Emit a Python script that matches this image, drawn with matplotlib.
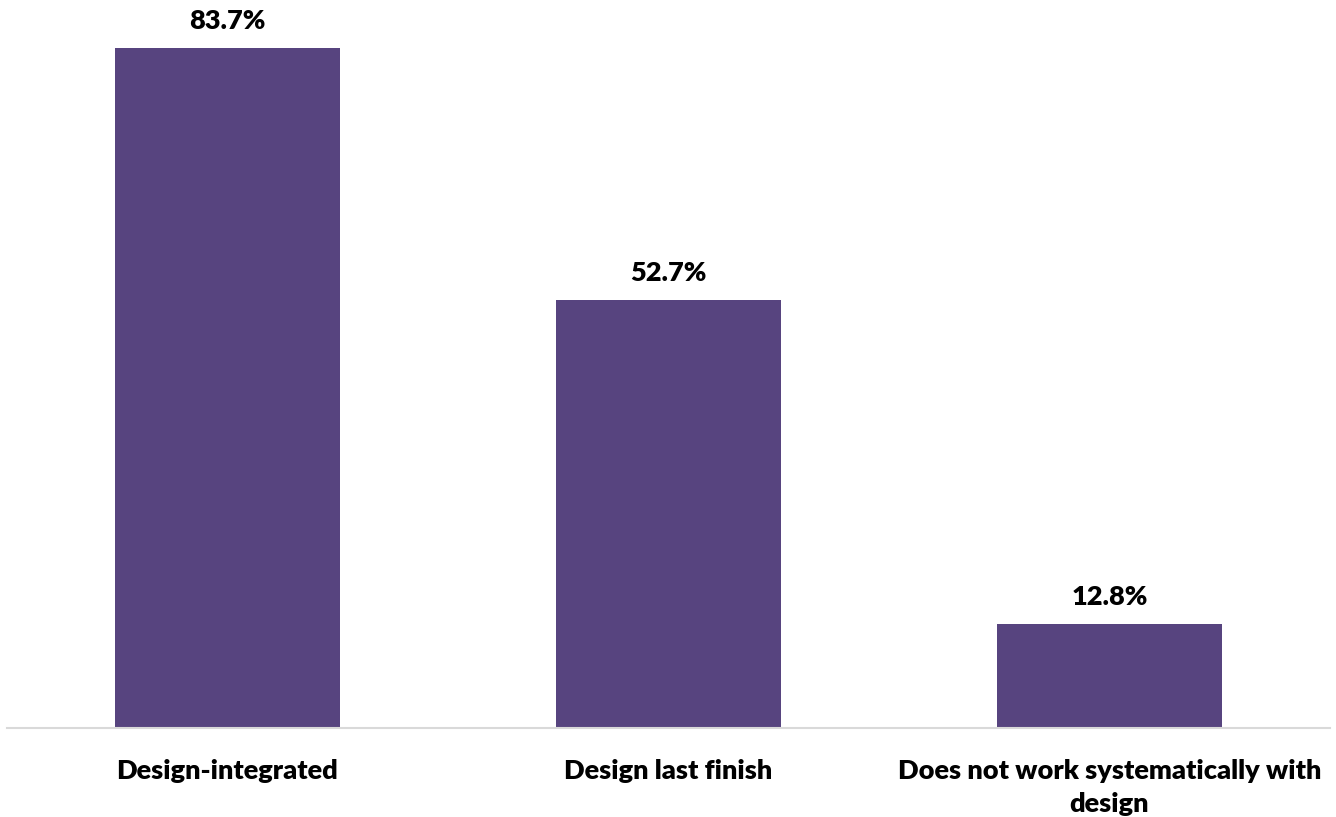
import matplotlib.pyplot as plt

# data
categories = ["Design-integrated", "Design last finish",
              "Does not work systematically with\ndesign"]
values = [83.7, 52.7, 12.8]

barColor = "#57447f"

plt.rcParams['font.family'] = ['Lato', 'DejaVu Sans']

fig = plt.figure(figsize=(13.36, 8.17), dpi=100)
ax = fig.add_axes([7 / 1336, 89 / 817, 1323 / 1336, 728 / 817])

x = list(range(len(categories)))
bars = ax.bar(x, values, width=0.51, color=barColor, zorder=2)

ax.set_xlim(-0.5, 2.5)
ax.set_ylim(0, 89.6)

# value labels above bars
for rect, v in zip(bars, values):
    ax.annotate(f"{v:.1f}%", (rect.get_x() + rect.get_width() / 2, v),
                xytext=(0, 11), textcoords="offset points",
                ha="center", va="bottom", fontsize=19.5, fontweight="heavy")

ax.set_xticks(x)
ax.set_xticklabels(categories, fontsize=19.5, fontweight="heavy", linespacing=1.45)
ax.tick_params(axis="x", length=0, pad=22)
ax.set_yticks([])

for side in ["top", "right", "left"]:
    ax.spines[side].set_visible(False)
ax.spines["bottom"].set_color("#d9d9d9")
ax.spines["bottom"].set_linewidth(1.5)

fig.savefig("out.png", dpi=100)
